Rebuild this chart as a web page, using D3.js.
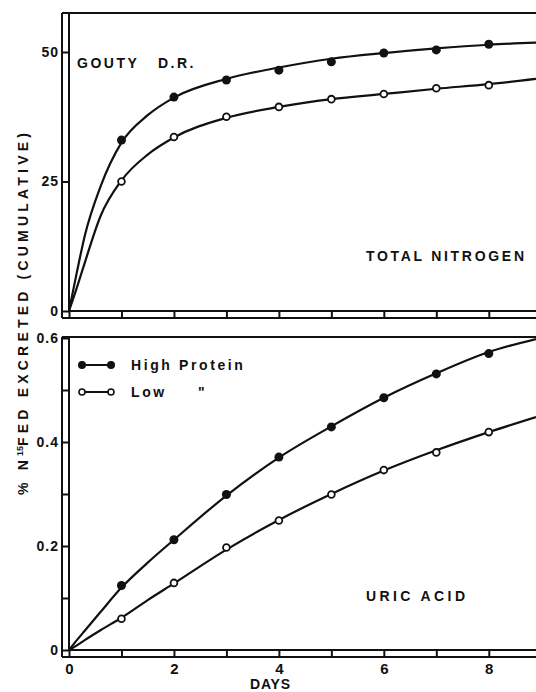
<!DOCTYPE html>
<html>
<head>
<meta charset="utf-8">
<script src="https://cdn.jsdelivr.net/npm/d3@7"></script>
<style>
  body { margin: 0; background: #fff; }
  text { font-family: 'Liberation Sans', Arial, sans-serif; font-weight: bold; fill: #111; }
</style>
</head>
<body>
<div id="chart"></div>
<script>
const width = 536;
const height = 692;

// observed points, day 1..8
const days = [1, 2, 3, 4, 5, 6, 7, 8];
const totalHigh = [33, 41.3, 44.6, 46.5, 48.1, 49.8, 50.4, 51.5];
const totalLow = [25, 33.6, 37.5, 39.4, 40.9, 41.9, 43, 43.6];
const uricHigh = [0.124, 0.212, 0.299, 0.371, 0.429, 0.485, 0.531, 0.570];
const uricLow = [0.060, 0.129, 0.197, 0.249, 0.299, 0.346, 0.380, 0.419];

// hand drawn smooth curves
const fitDays = [0, 0.15, 0.3, 0.6, 1, 1.5, 2, 3, 4, 5, 6, 7, 8, 8.9];
const totalHighFit = [0, 7.5, 14.5, 24, 32.5, 37.8, 41.2, 44.8, 47, 48.7, 49.8, 50.7, 51.4, 51.8];
const totalLowFit = [0, 4.5, 9.3, 18.3, 25.2, 30.2, 33.5, 37.3, 39.4, 40.9, 41.9, 42.9, 43.8, 44.8];
const uricHighFit = [0, 0.019, 0.037, 0.073, 0.12, 0.168, 0.212, 0.297, 0.37, 0.43, 0.485, 0.532, 0.573, 0.598];
const uricLowFit = [0, 0.009, 0.019, 0.038, 0.062, 0.096, 0.128, 0.193, 0.25, 0.3, 0.345, 0.384, 0.419, 0.448];

// ticks
const dayTicks = [0, 1, 2, 3, 4, 5, 6, 7, 8];
const dayLabels = [0, 2, 4, 6, 8];
const totalTicks = [0, 25, 50];
const uricTicks = [0, 0.1, 0.2, 0.3, 0.4, 0.5, 0.6];
const uricLabels = [0, 0.2, 0.4, 0.6];

const barW = 7;
const axisLeft = 69;

const svg = d3.select('#chart').append('svg')
  .attr('width', width)
  .attr('height', height)
  .style('background', '#fff');

const x = d3.scaleLinear().domain([0, 8.9]).range([axisLeft, width]);
const yTop = d3.scaleLinear().domain([0, 50]).range([311, 52]);
const yBot = d3.scaleLinear().domain([0, 0.6]).range([650, 338]);

function ink(sel, w) {
  return sel.attr('stroke', '#111').attr('stroke-width', w).attr('fill', 'none');
}

// ruler-like axis bars: two parallel lines with ticks between them
function drawPanel(y, top, yTicks, yLabels, fmt, xLabels) {
  const y0 = y.range()[0];

  // frame top
  ink(svg.append('line'), 2)
    .attr('x1', axisLeft - barW).attr('x2', width)
    .attr('y1', top).attr('y2', top);

  // left bar
  ink(svg.append('line'), 2)
    .attr('x1', axisLeft - barW).attr('x2', axisLeft - barW)
    .attr('y1', top).attr('y2', y0 + barW);
  ink(svg.append('line'), 2)
    .attr('x1', axisLeft).attr('x2', axisLeft)
    .attr('y1', top).attr('y2', y0);

  // bottom bar
  ink(svg.append('line'), 2)
    .attr('x1', axisLeft).attr('x2', width)
    .attr('y1', y0).attr('y2', y0);
  ink(svg.append('line'), 2)
    .attr('x1', axisLeft - barW).attr('x2', width)
    .attr('y1', y0 + barW).attr('y2', y0 + barW);

  const ya = svg.append('g')
    .attr('transform', `translate(${axisLeft},0)`)
    .call(d3.axisLeft(y).tickValues(yTicks).tickSize(barW).tickPadding(3)
      .tickFormat(d => (yLabels.includes(d) ? fmt(d) : '')));
  ya.select('.domain').remove();
  ya.selectAll('.tick line').attr('stroke', '#111').attr('stroke-width', 2);
  ya.selectAll('.tick text').style('font-size', '14px').style('letter-spacing', '1px')
    .attr('fill', '#111');

  const xa = svg.append('g')
    .attr('transform', `translate(0,${y0})`)
    .call(d3.axisBottom(x).tickValues(dayTicks).tickSize(barW).tickPadding(6)
      .tickFormat(d => (xLabels.includes(d) ? d : '')));
  xa.select('.domain').remove();
  xa.selectAll('.tick line').attr('stroke', '#111').attr('stroke-width', 2);
  xa.selectAll('.tick text').style('font-size', '15px').attr('fill', '#111');
}

function drawSeries(y, fit, values, filled) {
  const line = d3.line()
    .x((d, i) => x(fitDays[i]))
    .y(d => y(d))
    .curve(d3.curveMonotoneX);

  ink(svg.append('path'), 2.2)
    .attr('d', line(fit));

  svg.append('g').selectAll('circle')
    .data(values)
    .enter()
    .append('circle')
    .attr('cx', (d, i) => x(days[i]))
    .attr('cy', d => y(d))
    .attr('r', filled ? 4.5 : 3.4)
    .attr('fill', filled ? '#111' : '#fff')
    .attr('stroke', '#111')
    .attr('stroke-width', filled ? 0 : 1.8);
}

function label(txt, lx, ly, size, spacing) {
  return svg.append('text')
    .attr('x', lx)
    .attr('y', ly)
    .style('font-size', `${size}px`)
    .style('letter-spacing', `${spacing}px`)
    .text(txt);
}

// panels
drawPanel(yTop, 13, totalTicks, totalTicks, d => d, []);
drawPanel(yBot, 337, uricTicks, uricLabels, d => (d === 0 ? '0' : d3.format('.1f')(d)), dayLabels);

drawSeries(yTop, totalHighFit, totalHigh, true);
drawSeries(yTop, totalLowFit, totalLow, false);
drawSeries(yBot, uricHighFit, uricHigh, true);
drawSeries(yBot, uricLowFit, uricLow, false);

// panel labels
label('GOUTY', 77, 68, 14, 2.5);
label('D.R.', 158, 68, 14, 2.5);
label('TOTAL NITROGEN', 366, 261, 14, 2.7);
label('URIC ACID', 366, 601, 14, 3.4);
label('DAYS', 250, 689, 14, 0.8);

// legend
function legendItem(ly, filled, txt) {
  ink(svg.append('line'), 2)
    .attr('x1', 82).attr('x2', 111)
    .attr('y1', ly).attr('y2', ly);
  svg.append('g').selectAll('circle')
    .data([82, 111])
    .enter()
    .append('circle')
    .attr('cx', d => d)
    .attr('cy', ly)
    .attr('r', filled ? 4 : 3)
    .attr('fill', filled ? '#111' : '#fff')
    .attr('stroke', '#111')
    .attr('stroke-width', filled ? 0 : 1.6);
  label(txt, 131, ly + 5, 14, 2.6);
}
legendItem(365, true, 'High Protein');
legendItem(392, false, 'Low');
label('"', 198, 397, 14, 0);

// y axis title
const yTitle = svg.append('text')
  .attr('transform', 'translate(28,312) rotate(-90)')
  .attr('text-anchor', 'middle')
  .style('font-size', '14px')
  .style('letter-spacing', '4.2px');
yTitle.append('tspan').text('% N');
yTitle.append('tspan').attr('dy', -5).style('font-size', '9px').style('letter-spacing', '0px').text('15');
yTitle.append('tspan').attr('dy', 5).text('FED EXCRETED (CUMULATIVE)');
</script>
</body>
</html>
